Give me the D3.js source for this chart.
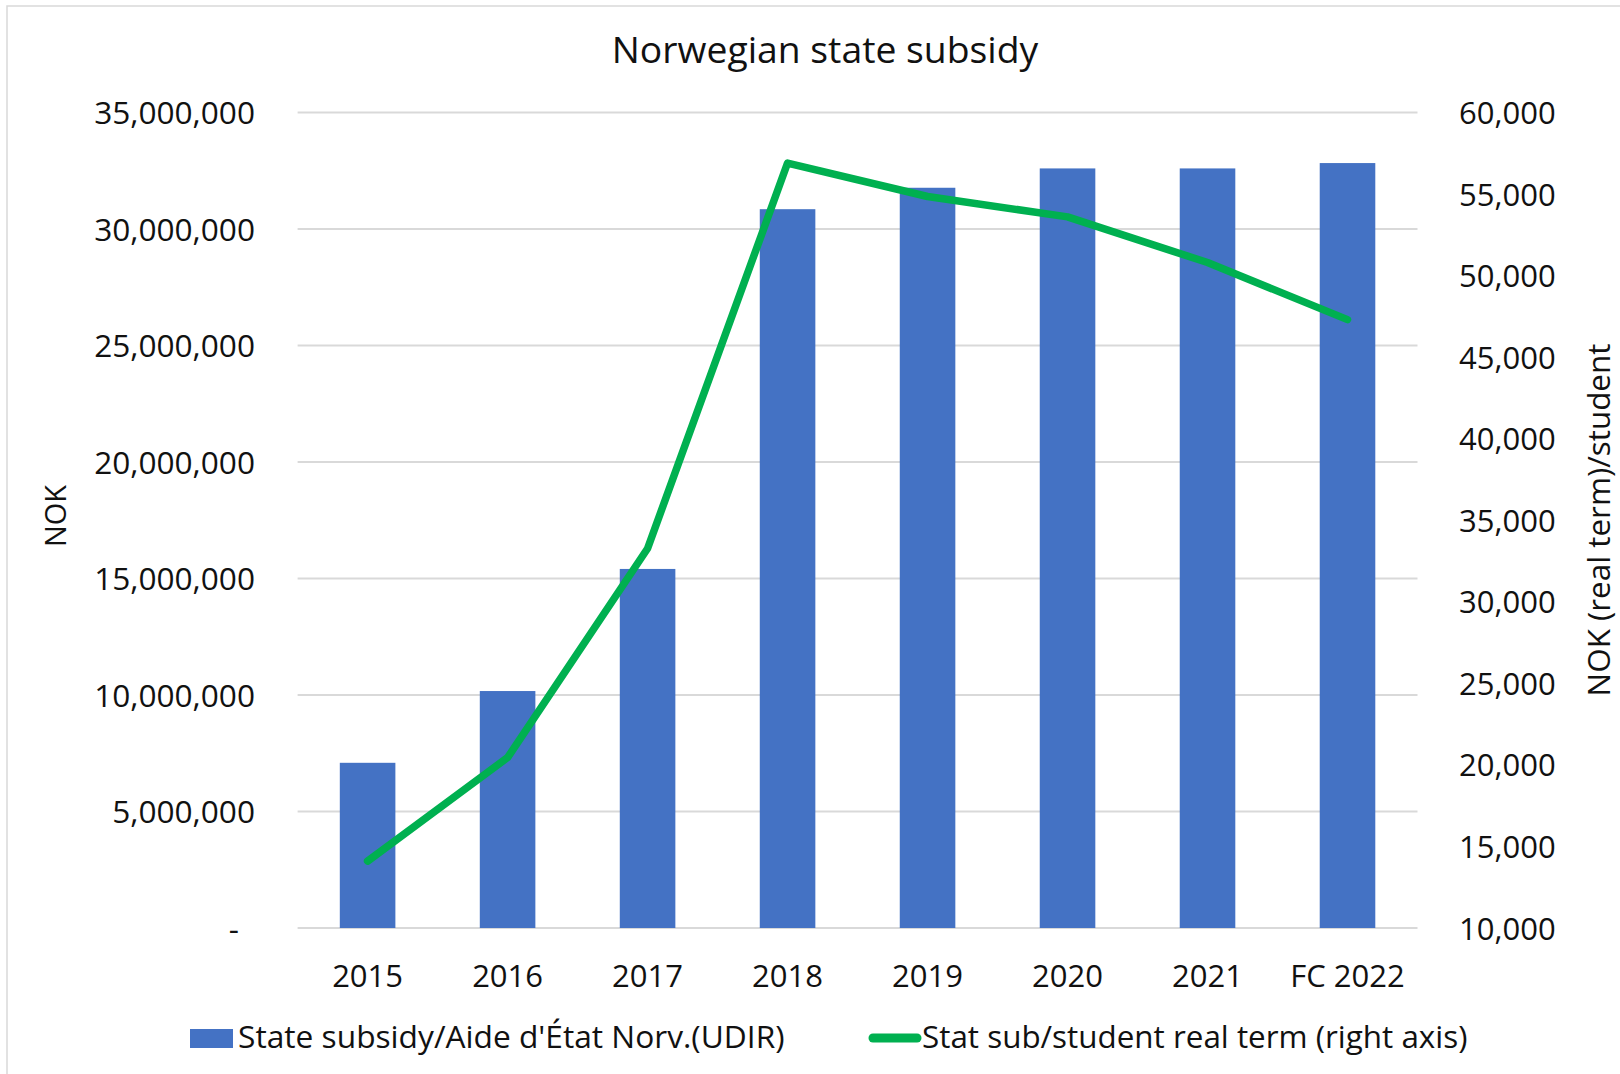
<!DOCTYPE html>
<html>
<head>
<meta charset="utf-8">
<script src="https://cdn.jsdelivr.net/npm/d3@7"></script>
<style>
  html, body { margin: 0; padding: 0; background: #fff; }
  svg { display: block; font-family: "Open Sans", sans-serif; }
</style>
</head>
<body>
<svg id="chart" width="1620" height="1074"></svg>
<script>
const categories = ["2015", "2016", "2017", "2018", "2019", "2020", "2021", "FC 2022"];
const subsidyValues = [7090000, 10170000, 15410000, 30850000, 31770000, 32600000, 32600000, 32830000];
const perStudentValues = [14100, 20450, 33270, 56900, 54850, 53600, 50800, 47300];
const leftTicks = [0, 5000000, 10000000, 15000000, 20000000, 25000000, 30000000, 35000000];
const rightTicks = [10000, 15000, 20000, 25000, 30000, 35000, 40000, 45000, 50000, 55000, 60000];
const titleText = "Norwegian state subsidy";
const leftAxisTitle = "NOK";
const rightAxisTitle = "NOK (real term)/student";
const legendLabels = ["State subsidy/Aide d'État Norv.(UDIR)", "Stat sub/student real term (right axis)"];

const svg = d3.select("#chart");
const W = 1620, H = 1074;
const plot = { left: 297.6, right: 1417.5, top: 112.5, bottom: 928 };

// border
svg.append("rect").attr("x", 7).attr("y", 6).attr("width", W + 20).attr("height", H + 20)
  .attr("fill", "none").attr("stroke", "#d9d9d9").attr("stroke-width", 1.5);

const x = d3.scaleBand().domain(categories).range([plot.left, plot.right]).padding(0);
const yL = d3.scaleLinear().domain([0, 35000000]).range([plot.bottom, plot.top]);
const yR = d3.scaleLinear().domain([10000, 60000]).range([plot.bottom, plot.top]);

// gridlines
svg.append("g").selectAll("line").data(leftTicks).join("line")
  .attr("x1", plot.left).attr("x2", plot.right)
  .attr("y1", d => yL(d)).attr("y2", d => yL(d))
  .attr("stroke", "#d9d9d9").attr("stroke-width", 1.8);

// bars
const barW = x.bandwidth() * 0.397;
svg.append("g").selectAll("rect").data(categories).join("rect")
  .attr("x", (d) => x(d) + x.bandwidth() / 2 - barW / 2)
  .attr("y", (d, i) => yL(subsidyValues[i]))
  .attr("width", barW)
  .attr("height", (d, i) => yL(0) - yL(subsidyValues[i]))
  .attr("fill", "#4472C4");

// line
const line = d3.line()
  .x((d, i) => x(categories[i]) + x.bandwidth() / 2)
  .y(d => yR(d));
svg.append("path").datum(perStudentValues)
  .attr("d", line)
  .attr("fill", "none").attr("stroke", "#00B050").attr("stroke-width", 7.5)
  .attr("stroke-linejoin", "round").attr("stroke-linecap", "round");

// left axis
const fmt = d3.format(",");
const leftAxis = d3.axisLeft(yL).tickValues(leftTicks).tickSize(0).tickPadding(0)
  .tickFormat(d => d === 0 ? "-" : fmt(d));
const gL = svg.append("g").attr("transform", `translate(255,0)`).call(leftAxis);
gL.select(".domain").remove();
gL.selectAll("text").attr("font-size", 31.6).attr("fill", "#111")
  .attr("font-family", "Open Sans, sans-serif").attr("dy", "0.357em")
  .attr("dx", d => d === 0 ? -16 : 0);

// right axis
const rightAxis = d3.axisRight(yR).tickValues(rightTicks).tickSize(0).tickPadding(0)
  .tickFormat(fmt);
const gR = svg.append("g").attr("transform", `translate(1459,0)`).call(rightAxis);
gR.select(".domain").remove();
gR.selectAll("text").attr("font-size", 31).attr("fill", "#111")
  .attr("font-family", "Open Sans, sans-serif").attr("dy", "0.357em");

// x axis
const xAxis = d3.axisBottom(x).tickSize(0).tickPadding(0);
const gX = svg.append("g").attr("transform", `translate(0,${plot.bottom})`).call(xAxis);
gX.select(".domain").remove();
gX.selectAll("text").attr("font-size", 31).attr("fill", "#111")
  .attr("font-family", "Open Sans, sans-serif").attr("y", 59).attr("dy", 0);

// title
svg.append("text").attr("x", 825).attr("y", 63).attr("text-anchor", "middle")
  .attr("font-size", 37.3).attr("fill", "#111").text(titleText);

// axis titles
svg.append("text").attr("transform", `translate(66,516) rotate(-90)`)
  .attr("text-anchor", "middle").attr("font-size", 29).attr("fill", "#111").text(leftAxisTitle);
svg.append("text").attr("transform", `translate(1610,520) rotate(-90)`)
  .attr("text-anchor", "middle").attr("font-size", 31.4).attr("fill", "#111").text(rightAxisTitle);

// legend
const lg = svg.append("g");
lg.append("rect").attr("x", 190).attr("y", 1029).attr("width", 43).attr("height", 19).attr("fill", "#4472C4");
lg.append("text").attr("x", 238).attr("y", 1048).attr("font-size", 31.7).attr("fill", "#111").text(legendLabels[0]);
lg.append("line").attr("x1", 873).attr("x2", 917).attr("y1", 1038).attr("y2", 1038)
  .attr("stroke", "#00B050").attr("stroke-width", 9).attr("stroke-linecap", "round");
lg.append("text").attr("x", 922).attr("y", 1048).attr("font-size", 31.4).attr("fill", "#111").text(legendLabels[1]);
</script>
</body>
</html>
